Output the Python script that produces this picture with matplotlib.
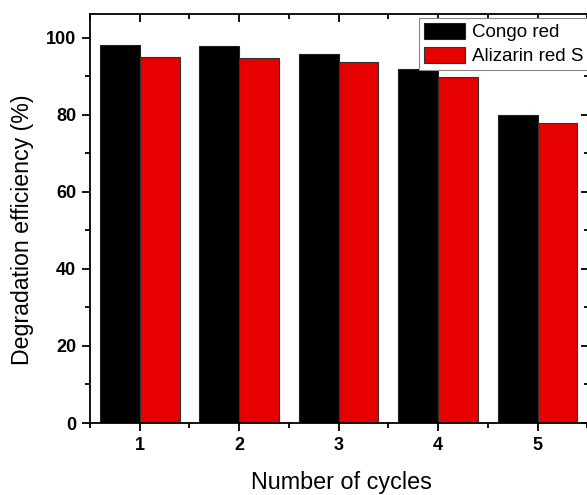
import matplotlib
matplotlib.use("Agg")
import matplotlib.pyplot as plt
import numpy as np
from matplotlib.ticker import MultipleLocator

plt.rcParams['font.family'] = ['Liberation Sans', 'DejaVu Sans']

cycles = [1, 2, 3, 4, 5]
congo_red = [98.2, 97.9, 95.8, 91.9, 80.0]
alizarin_red_s = [95.1, 94.9, 93.7, 89.8, 78.0]
series_labels = ["Congo red", "Alizarin red S"]
y_ticks = [0, 20, 40, 60, 80, 100]

W, H = 587, 495
fig = plt.figure(figsize=(W / 100, H / 100), dpi=100)
left, right, top, bottom = 90, 589.0, 14, 423
ax = fig.add_axes([left / W, (H - bottom) / H, (right - left) / W, (bottom - top) / H])

x = np.array(cycles, dtype=float)
bw = 0.4
ax.bar(x - bw / 2, congo_red, width=bw, color="black", edgecolor="#222222",
       linewidth=0.8, label=series_labels[0])
ax.bar(x + bw / 2, alizarin_red_s, width=bw, color="#e60000", edgecolor="#333333",
       linewidth=0.8, label=series_labels[1])

ax.set_xlim(0.5, 5.516)
ax.set_ylim(0, 106.2)
ax.set_xticks(cycles)
ax.set_xticklabels([str(c) for c in cycles], fontweight="bold")
ax.set_yticks(y_ticks)
ax.set_yticklabels([str(v) for v in y_ticks], fontweight="bold")
ax.xaxis.set_minor_locator(MultipleLocator(0.5))
ax.yaxis.set_minor_locator(MultipleLocator(10))

for s in ax.spines.values():
    s.set_linewidth(1.3)

ax.tick_params(axis="both", which="major", direction="out", length=6, width=1.3,
               labelsize=13, pad=4)
ax.tick_params(axis="both", which="minor", direction="out", length=3.5, width=1.3)
ax.xaxis.set_tick_params(which="both", top=True, labeltop=False)
ax.yaxis.set_tick_params(which="both", right=True, labelright=False)
# top/right ticks point inward
for t in ax.xaxis.get_major_ticks() + ax.xaxis.get_minor_ticks():
    t.tick2line.set_marker(3)
for t in ax.yaxis.get_major_ticks() + ax.yaxis.get_minor_ticks():
    t.tick2line.set_marker(0)

fig.text(341.5 / W, 1 - 482 / H, "Number of cycles",
         fontsize=16.8, ha="center", va="center")
fig.text(23 / W, 1 - 230 / H, "Degradation efficiency (%)",
         fontsize=16.7, rotation=90, ha="center", va="center")

leg = fig.legend(loc="upper left", bbox_to_anchor=(419 / W, 1 - 18 / H),
                 bbox_transform=fig.transFigure, borderaxespad=0,
                 fontsize=13.5, frameon=True, fancybox=False, framealpha=1,
                 edgecolor="#888888", handlelength=2.2, handleheight=0.95,
                 handletextpad=0.35, labelspacing=0.3, borderpad=0.25)
leg.get_frame().set_linewidth(0.8)

fig.savefig("out.png", dpi=100)
